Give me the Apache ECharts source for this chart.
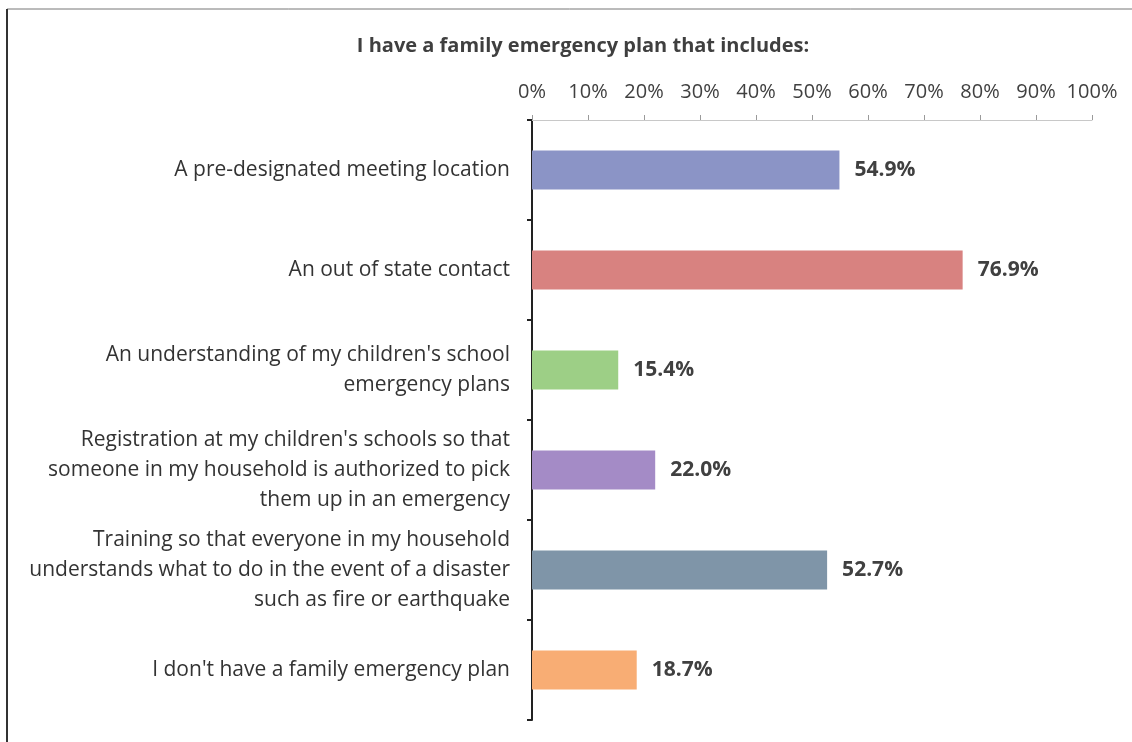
<!DOCTYPE html>
<html>
<head>
<meta charset="utf-8">
<script src="https://cdn.jsdelivr.net/npm/echarts@6/dist/echarts.min.js"></script>
<style>
html,body{margin:0;padding:0;background:#fff;}
#chart{width:1132px;height:742px;}
</style>
</head>
<body>
<div id="chart"></div>
<script>
const titleText = "I have a family emergency plan that includes:";
const categories = [
  "A pre-designated meeting location",
  "An out of state contact",
  "An understanding of my children's school\nemergency plans",
  "Registration at my children's schools so that\nsomeone in my household is authorized to pick\nthem up in an emergency",
  "Training so that everyone in my household\nunderstands what to do in the event of a disaster\nsuch as fire or earthquake",
  "I don't have a family emergency plan"
];
const values = [54.9, 76.9, 15.4, 22.0, 52.7, 18.7];
const barColors = ["#8b94c6", "#d88280", "#9dcf86", "#a48bc6", "#7f95a8", "#f8ad74"];
const xTicks = [0, 10, 20, 30, 40, 50, 60, 70, 80, 90, 100];

const FONT = "'Open Sans', 'Noto Sans', sans-serif";
const chart = echarts.init(document.getElementById('chart'), null, {renderer: 'canvas'});
chart.setOption({
  animation: false,
  backgroundColor: '#ffffff',
  title: {
    text: titleText,
    left: 578,
    textAlign: 'center',
    top: 31,
    textStyle: {fontFamily: FONT, fontSize: 20, fontWeight: 'bold', color: '#3f3f3f'}
  },
  grid: {left: 532, top: 120, width: 560, height: 600, containLabel: false},
  graphic: [
    {type: 'line', shape: {x1: 7, y1: 9, x2: 1132, y2: 9}, style: {stroke: '#777', lineWidth: 1}},
    {type: 'line', shape: {x1: 7, y1: 9, x2: 7, y2: 742}, style: {stroke: '#333', lineWidth: 2}}
  ],
  xAxis: {
    type: 'value',
    position: 'top',
    min: xTicks[0],
    max: xTicks[xTicks.length - 1],
    interval: 10,
    axisLine: {show: true, lineStyle: {color: '#c8c8c8', width: 1}},
    axisTick: {show: true, length: 5, lineStyle: {color: '#9a9a9a'}},
    splitLine: {show: false},
    axisLabel: {
      margin: 18,
      fontFamily: FONT, fontSize: 20, color: '#404040',
      formatter: v => v + '%'
    }
  },
  yAxis: {
    type: 'category',
    data: categories,
    inverse: true,
    axisLine: {show: true, lineStyle: {color: '#222', width: 2}},
    axisTick: {show: true, length: 5, lineStyle: {color: '#222', width: 2}},
    axisLabel: {
      margin: 22,
      padding: [5, 0, 0, 0],
      fontFamily: FONT, fontSize: 21, color: '#333', lineHeight: 30, align: 'right'
    }
  },
  series: [{
    type: 'bar',
    data: values.map((v, i) => ({value: v, itemStyle: {color: barColors[i]}})),
    barWidth: 39,
    label: {
      show: true,
      position: 'right',
      distance: 15,
      padding: [5, 0, 0, 0],
      fontFamily: FONT, fontSize: 21, fontWeight: 'bold', color: '#404040',
      formatter: p => p.value.toFixed(1) + '%'
    }
  }]
});
</script>
</body>
</html>
